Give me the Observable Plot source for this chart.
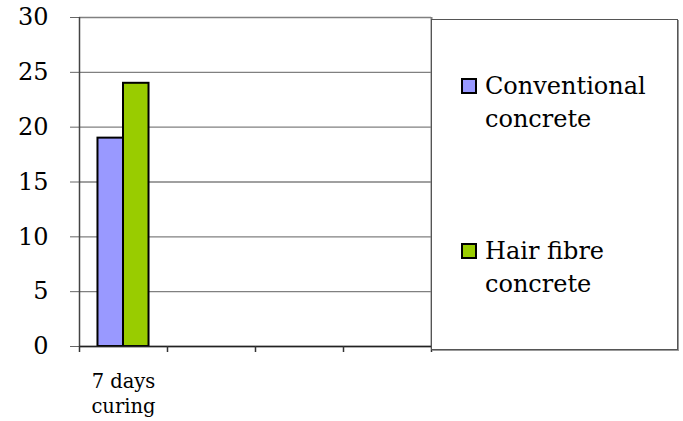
<!DOCTYPE html>
<html>
<head>
<meta charset="utf-8">
<script src="https://cdn.jsdelivr.net/npm/d3@7"></script>
<script src="https://cdn.jsdelivr.net/npm/@observablehq/plot@0.6"></script>
<style>
  html, body { margin: 0; padding: 0; background: #fff; }
  #wrap { position: relative; width: 683px; height: 421px; font-family: "DejaVu Serif", serif; }
  #legend { position: absolute; left: 431px; top: 19px; width: 245px; height: 329px; border: 1px solid #555; background: #fff; box-shadow: 1px 1px 0 #999; }
  .sw { position: absolute; width: 12px; height: 12px; border: 2px solid #000; }
  .lt { position: absolute; font-size: 24px; line-height: 33px; color: #000; white-space: pre; }
</style>
</head>
<body>
<div id="wrap"></div>
<script>
// Data
const categories = ["7 days\ncuring", "", "", ""];
const series = ["Conventional concrete", "Hair fibre concrete"];
const legendLabels = ["Conventional\nconcrete", "Hair fibre\nconcrete"];
const conventional = [19, null, null, null];
const hairFibre = [24, null, null, null];
const colors = ["#9999FF", "#99CC00"];
const yTicks = [0, 5, 10, 15, 20, 25, 30];

const values = [conventional, hairFibre];
const rows = [];
categories.forEach((c, i) => {
  series.forEach((s, j) => {
    const v = values[j][i];
    if (v != null) rows.push({cat: i, s: j, value: v});
  });
});

const groupGap = 0.21, barW = 0.29;
const font = "DejaVu Serif";

const chart = Plot.plot({
  width: 683,
  height: 421,
  marginLeft: 79,
  marginRight: 252,
  marginTop: 17,
  marginBottom: 75,
  style: {background: "#fff", fontFamily: font, color: "#000", overflow: "visible"},
  x: {domain: [0, categories.length], label: null},
  y: {domain: [0, 30], label: null},
  marks: [
    Plot.ruleY(yTicks, {stroke: "#808080", strokeWidth: 1.3}),
    Plot.ruleX([categories.length], {stroke: "#808080", strokeWidth: 2}),
    Plot.axisY({ticks: yTicks, label: null, tickSize: 9, tickPadding: 22, fontSize: 24, fontFamily: font, stroke: "#666", fill: "#000"}),
    Plot.rectY(rows, {
      x1: d => d.cat + groupGap + d.s * barW,
      x2: d => d.cat + groupGap + (d.s + 1) * barW,
      y1: 0,
      y2: "value",
      fill: d => colors[d.s],
      stroke: "#000",
      strokeWidth: 2
    }),
    Plot.ruleX([0], {stroke: "#444", strokeWidth: 1.5}),
    Plot.ruleY([0], {stroke: "#222", strokeWidth: 1.5}),
    Plot.axisX({ticks: d3.range(categories.length + 1), label: null, tickSize: 6, tickFormat: () => "", stroke: "#333", strokeWidth: 1.5}),
    Plot.text(categories, {
      x: (d, i) => i + 0.5,
      y: 0,
      text: d => d,
      lineAnchor: "top",
      dy: 23,
      lineHeight: 1.3,
      fontSize: 19.5,
      fontFamily: font,
      fill: "#000"
    })
  ]
});

const wrap = document.getElementById("wrap");
wrap.appendChild(chart);

const legend = document.createElement("div");
legend.id = "legend";
const itemTops = [70, 235];
series.forEach((s, j) => {
  const sw = document.createElement("div");
  sw.className = "sw";
  sw.style.background = colors[j];
  sw.style.left = (461 - 432) + "px";
  sw.style.top = (itemTops[j] + 8 - 20) + "px";
  legend.appendChild(sw);
  const t = document.createElement("div");
  t.className = "lt";
  t.style.left = (485 - 432) + "px";
  t.style.top = (itemTops[j] - 20) + "px";
  t.textContent = legendLabels[j];
  legend.appendChild(t);
});
wrap.appendChild(legend);
</script>
</body>
</html>
